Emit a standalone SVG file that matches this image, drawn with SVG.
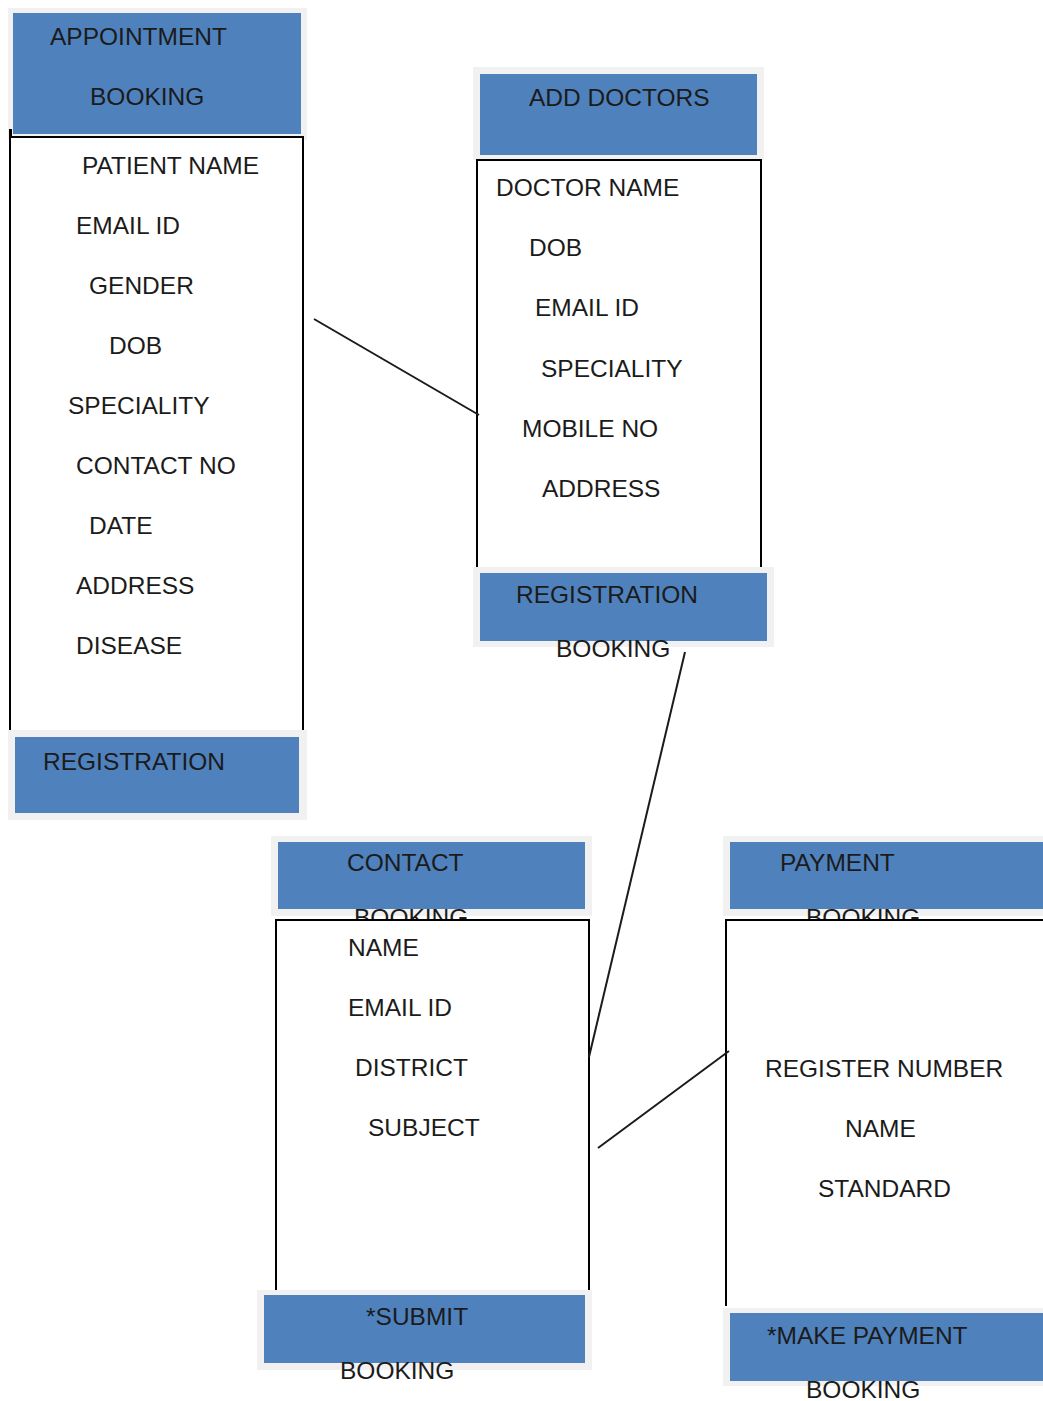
<svg xmlns="http://www.w3.org/2000/svg" width="1043" height="1401" viewBox="0 0 1043 1401">
<style>
.m{fill:#f1f1f1}
.b{fill:#4f81bd}
.w{fill:#ffffff;stroke:#000;stroke-width:2}
.t{font-family:"Liberation Sans",Arial,sans-serif;font-size:24.5px;fill:#1b1b1b}
.c{stroke:#1b1b1b;stroke-width:2;fill:none}
</style>
<rect width="1043" height="1401" fill="#fff"/>
<g id="appointment-booking">
<rect class="m" x="8" y="8" width="299" height="132"/>
<rect class="b" x="13" y="13" width="288" height="121"/>
<text class="t" x="50" y="45">APPOINTMENT</text>
<text class="t" x="90" y="105">BOOKING</text>
<path d="M10 730 V137 H303 V730" class="w"/>
<rect x="9" y="129" width="3" height="8" fill="#000"/>
<text class="t" x="82" y="174">PATIENT NAME</text>
<text class="t" x="76" y="234">EMAIL ID</text>
<text class="t" x="89" y="294">GENDER</text>
<text class="t" x="109" y="354">DOB</text>
<text class="t" x="68" y="414">SPECIALITY</text>
<text class="t" x="76" y="474">CONTACT NO</text>
<text class="t" x="89" y="534">DATE</text>
<text class="t" x="76" y="594">ADDRESS</text>
<text class="t" x="76" y="654">DISEASE</text>
</g>
<g id="registration-left">
<rect class="m" x="8" y="730" width="299" height="90"/>
<rect class="b" x="15" y="737" width="284" height="76"/>
<text class="t" x="43" y="770">REGISTRATION</text>
</g>
<g id="add-doctors">
<rect class="m" x="473" y="67" width="291" height="93"/>
<rect class="b" x="480" y="74" width="277" height="81"/>
<text class="t" x="529" y="106">ADD DOCTORS</text>
<path d="M477 567 V160 H761 V567" class="w"/>
<text class="t" x="496" y="196">DOCTOR NAME</text>
<text class="t" x="529" y="256">DOB</text>
<text class="t" x="535" y="316">EMAIL ID</text>
<text class="t" x="541" y="377">SPECIALITY</text>
<text class="t" x="522" y="437">MOBILE NO</text>
<text class="t" x="542" y="497">ADDRESS</text>
</g>
<g id="registration-doctor">
<rect class="m" x="473" y="567" width="301" height="80"/>
<rect class="b" x="480" y="573" width="287" height="68"/>
<text class="t" x="516" y="603">REGISTRATION</text>
<text class="t" x="556" y="657">BOOKING</text>
</g>
<g id="contact">
<rect class="m" x="271" y="836" width="321" height="80"/>
<rect class="b" x="278" y="842" width="307" height="67"/>
<text class="t" x="347" y="871">CONTACT</text>
<text class="t" x="354" y="926">BOOKING</text>
<path d="M276 1290 V920 H589 V1290" class="w"/>
<text class="t" x="348" y="956">NAME</text>
<text class="t" x="348" y="1016">EMAIL ID</text>
<text class="t" x="355" y="1076">DISTRICT</text>
<text class="t" x="368" y="1136">SUBJECT</text>
</g>
<g id="submit">
<rect class="m" x="257" y="1290" width="335" height="80"/>
<rect class="b" x="264" y="1295" width="321" height="68"/>
<text class="t" x="366" y="1325">*SUBMIT</text>
<text class="t" x="340" y="1379">BOOKING</text>
</g>
<g id="payment">
<rect class="m" x="723" y="836" width="320" height="80"/>
<rect class="b" x="730" y="842" width="313" height="67"/>
<text class="t" x="780" y="871">PAYMENT</text>
<text class="t" x="806" y="926">BOOKING</text>
<path d="M726 1306 V920 H1050" class="w"/>
<text class="t" x="765" y="1077">REGISTER NUMBER</text>
<text class="t" x="845" y="1137">NAME</text>
<text class="t" x="818" y="1197">STANDARD</text>
</g>
<g id="make-payment">
<rect class="m" x="723" y="1308" width="320" height="78"/>
<rect class="b" x="730" y="1313" width="313" height="68"/>
<text class="t" x="767" y="1344">*MAKE PAYMENT</text>
<text class="t" x="806" y="1398">BOOKING</text>
</g>
<g id="connectors">
<line class="c" x1="314" y1="319" x2="479" y2="415"/>
<line class="c" x1="685" y1="652" x2="589" y2="1057"/>
<line class="c" x1="598" y1="1148" x2="729" y2="1051"/>
</g>
</svg>
